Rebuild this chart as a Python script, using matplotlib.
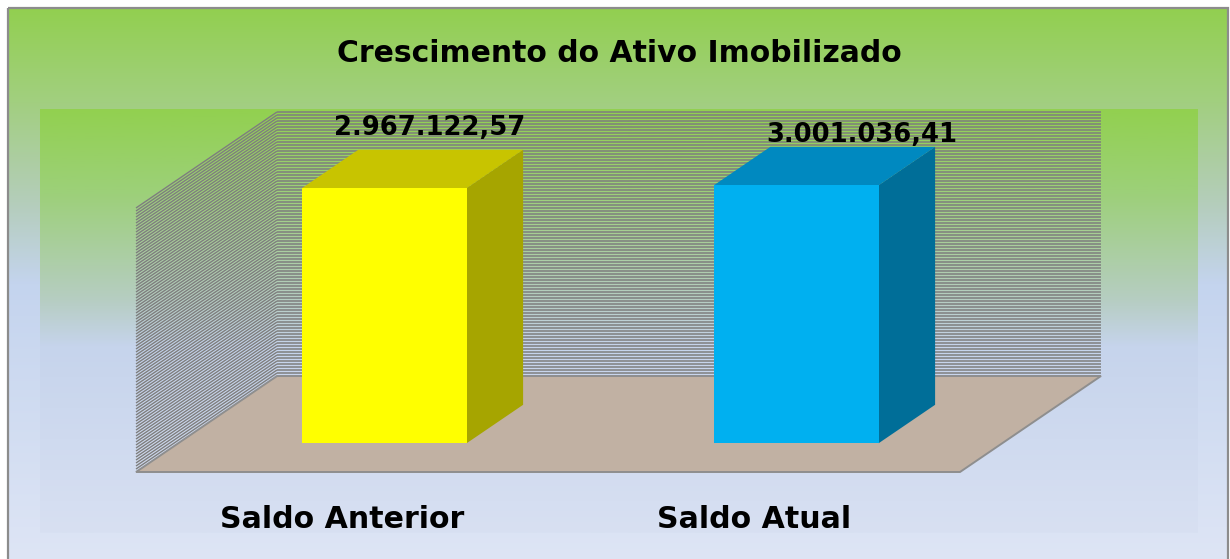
import matplotlib
matplotlib.use('Agg')
import matplotlib.pyplot as plt
import numpy as np
from matplotlib.patches import Polygon, Rectangle
from matplotlib.colors import LinearSegmentedColormap

# data
categories = ['Saldo Anterior', 'Saldo Atual']
values = [2967122.57, 3001036.41]
value_labels = ['2.967.122,57', '3.001.036,41']

# styling
front_colors = ['#FFFF00', '#00B0F0']
top_colors = ['#C8C400', '#0089C0']
side_colors = ['#A6A500', '#006E98']
label_nudge = [(-11, 22), (9, 12)]   # pixels, relative to top-back of bar

W, H = 1230, 559
fig = plt.figure(figsize=(W / 100, H / 100), dpi=100)

# background in pixel coords
bg = fig.add_axes([0, 0, 1, 1])
bg.set_xlim(0, W)
bg.set_ylim(H, 0)
bg.axis('off')


def gradient(stops, n=256):
    cmap = LinearSegmentedColormap.from_list('g', stops)
    return cmap(np.linspace(0, 1, n))[:, None, :]


outer = [(0.0, '#92D050'), (0.17, '#A2CF80'), (0.35, '#B4CDBA'),
         (0.5, '#C4D4EE'), (1.0, '#DEE5F5')]
inner = [(0.0, '#92D050'), (0.2, '#9DD07A'), (0.45, '#B6CDC2'),
         (0.56, '#C6D4EC'), (1.0, '#D8E0F2')]
bg.imshow(gradient(outer), extent=[8, 1228, 560, 8], aspect='auto',
          origin='upper', zorder=0)
bg.imshow(gradient(inner), extent=[40, 1198, 533, 109], aspect='auto',
          origin='upper', zorder=1)
bg.add_patch(Rectangle((8, 8), 1220, 560, fill=False, ec='#8C8C8C', lw=1.6,
                       zorder=2))

fig.text(619 / W, 1 - 53 / H, 'Crescimento do Ativo Imobilizado',
         ha='center', va='center', fontsize=21.5, fontweight='bold')

# main axes = front plane of the 3d box
ax = fig.add_axes([136 / W, (H - 472) / H, 824 / W, 263 / H])
ax.patch.set_visible(False)
ax.axis('off')
YMAX = 3.06e6
ax.set_xlim(-0.5, len(categories) - 0.5)
ax.set_ylim(0, YMAX)

# depth shift per unit depth, in data units
DX = 141 / 824 * len(categories)
DY = 96 / 263 * YMAX


def proj(x, y, z):
    return (x + z * DX, y + z * DY)


x_left, x_right = -0.5, len(categories) - 0.5

# striped walls (left side + back)
step = 3 / 263 * YMAX
for y in np.arange(step, YMAX + step / 2, step):
    # side wall stripe
    (ax_, ay_), (bx_, by_) = proj(x_left, y, 0), proj(x_left, y, 1)
    ax.plot([ax_, bx_], [ay_, by_], color='#7E7E7E', lw=1.0, clip_on=False,
            zorder=1, solid_capstyle='butt')
    # back wall stripe
    (cx_, cy_) = proj(x_right, y, 1)
    ax.plot([bx_, cx_], [by_, cy_], color='#7E7E7E', lw=1.1, clip_on=False,
            zorder=1, solid_capstyle='butt', snap=True)

# floor
floor = [proj(x_left, 0, 0), proj(x_right, 0, 0), proj(x_right, 0, 1),
         proj(x_left, 0, 1)]
ax.add_patch(Polygon(floor, closed=True, fc='#C1B1A3', ec='#8E8E8E', lw=1.4,
                     clip_on=False, zorder=2))

# bars
bw, z0, z1 = 0.4, 0.3, 0.7
for i, v in enumerate(values):
    x0, x1 = i - bw / 2, i + bw / 2
    side = [proj(x1, 0, z0), proj(x1, v, z0), proj(x1, v, z1), proj(x1, 0, z1)]
    top = [proj(x0, v, z0), proj(x1, v, z0), proj(x1, v, z1), proj(x0, v, z1)]
    ax.add_patch(Polygon(side, closed=True, fc=side_colors[i], ec='none',
                         clip_on=False, zorder=3))
    ax.add_patch(Polygon(top, closed=True, fc=top_colors[i], ec='none',
                         clip_on=False, zorder=3))
    ax.bar(i + z0 * DX, v, width=bw, bottom=z0 * DY, color=front_colors[i],
           clip_on=False, zorder=4)

    ax.annotate(value_labels[i], xy=proj(i, v, z1), xytext=label_nudge[i],
                textcoords='offset pixels', ha='center', va='center',
                fontsize=18.6, fontweight='bold', annotation_clip=False,
                zorder=5)
    ax.annotate(categories[i], xy=proj(i, 0, 0), xytext=(0, -48),
                textcoords='offset pixels', ha='center', va='center',
                fontsize=21.6, fontweight='bold', annotation_clip=False,
                zorder=5)

fig.savefig('out.png', dpi=100)
